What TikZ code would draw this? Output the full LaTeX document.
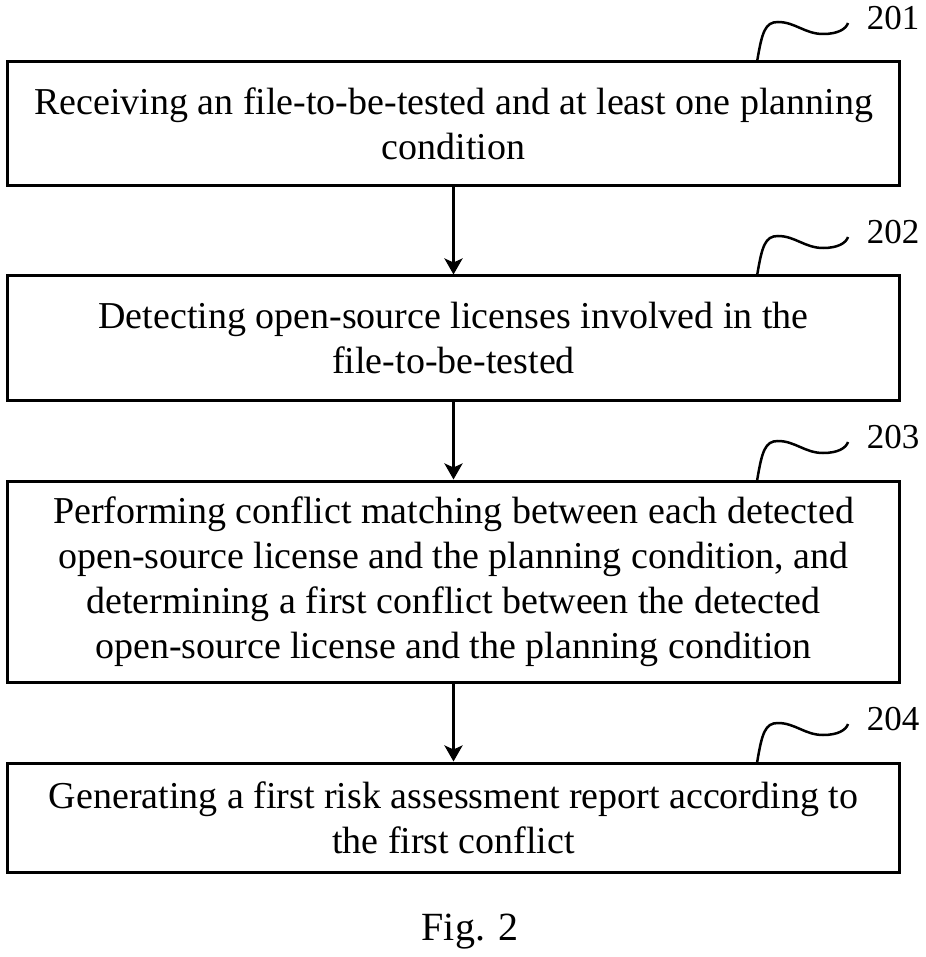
\documentclass[tikz,border=0pt]{standalone}
\usepackage{fontspec}
\setmainfont{Liberation Serif}
\usetikzlibrary{arrows.meta}
\begin{document}
\begin{tikzpicture}[x=1pt,y=-1pt,
  stepbox/.style={draw,line width=3pt,minimum width=892pt,inner sep=0pt,align=center,font=\fontsize{38}{45}\selectfont},
  arr/.style={line width=3pt,-{Stealth[length=16pt,width=18pt,inset=4pt]}},
  squig/.style={line width=2.5pt},
  lab/.style={font=\fontsize{35}{38}\selectfont,inner sep=0pt}]
\useasboundingbox (0,0) rectangle (925,957);
\node[stepbox,minimum height=124pt] (b1) at (453.5,124) {Receiving an file-to-be-tested and at least one planning\\condition};
\node[stepbox,minimum height=124pt] (b2) at (453.5,338) {Detecting open-source licenses involved in the\\file-to-be-tested};
\node[stepbox,minimum height=201pt] (b3) at (453.5,581.5) {Performing conflict matching between each detected\\open-source license and the planning condition, and\\determining a first conflict between the detected\\open-source license and the planning condition};
\node[stepbox,minimum height=109pt] (b4) at (453.5,817.5) {Generating a first risk assessment report according to\\the first conflict};
\draw[arr] (b1) -- (b2);
\draw[arr] (b2) -- (b3);
\draw[arr] (b3) -- (b4);
\foreach \n/\t/\num in {1/62/201,2/276/202,3/481/203,4/763/204}{
  \node[lab] (l\n) at (893,\t-44) {\num};
  \coordinate (s\n) at (757,\t);
  \coordinate (e\n) at (848,\t-39);
  \draw[squig] (s\n) .. controls (762,\t-30) and (765,\t-40) .. (778,\t-40)
     .. controls (795,\t-40) and (805,\t-28) .. (823,\t-28)
     .. controls (838,\t-28) and (846,\t-33) .. (e\n);
}
\node[lab,font=\fontsize{40}{44}\selectfont] (fig) at (470,932) {Fig. 2};
\end{tikzpicture}
\end{document}
